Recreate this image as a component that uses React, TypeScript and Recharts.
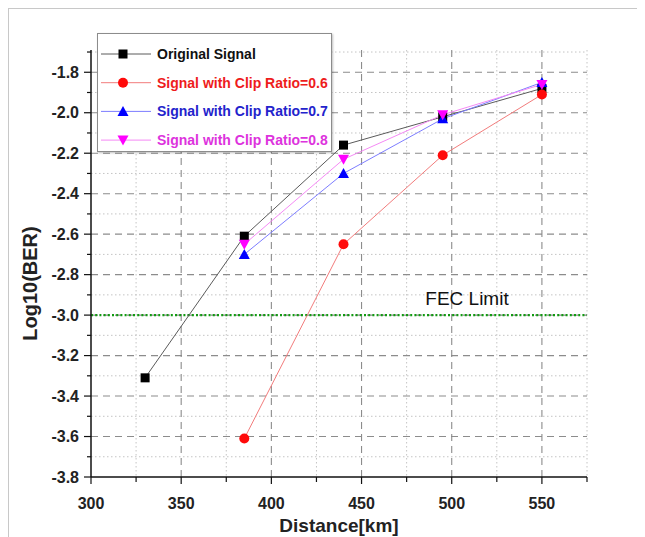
import { LineChart, Line, XAxis, YAxis, CartesianGrid, ReferenceLine, Legend } from 'recharts';

const distances = [330, 385, 440, 495, 550];
const originalSignal = [-3.31, -2.61, -2.16, -2.02, -1.88];
const clipRatio06 = [null, -3.61, -2.65, -2.21, -1.91];
const clipRatio07 = [null, -2.7, -2.3, -2.03, -1.85];
const clipRatio08 = [null, -2.65, -2.23, -2.01, -1.86];

const xTicks = [300, 325, 350, 375, 400, 425, 450, 475, 500, 525, 550, 575];
const xMajorTicks = [300, 350, 400, 450, 500, 550];
const xMinorTicks = [325, 375, 425, 475, 525, 575];
const yTicks = [-3.8, -3.7, -3.6, -3.5, -3.4, -3.3, -3.2, -3.1, -3.0, -2.9, -2.8, -2.7, -2.6, -2.5, -2.4, -2.3, -2.2, -2.1, -2.0, -1.9, -1.8, -1.7];
const yMajorTicks = [-3.8, -3.6, -3.4, -3.2, -3.0, -2.8, -2.6, -2.4, -2.2, -2.0, -1.8];
const yMinorTicks = [-3.7, -3.5, -3.3, -3.1, -2.9, -2.7, -2.5, -2.3, -2.1, -1.9, -1.7];
const fecLimit = -3.0;

const data = distances.map((d, i) => ({
  distance: d,
  original: originalSignal[i],
  clip06: clipRatio06[i],
  clip07: clipRatio07[i],
  clip08: clipRatio08[i],
}));

const FONT = '"Liberation Sans", Arial, sans-serif';

const series = [
  { key: 'original', name: 'Original Signal', line: '#5a5a5a', marker: '#000000', text: '#111111', shape: 'square' },
  { key: 'clip06', name: 'Signal with Clip Ratio=0.6', line: '#f27c7c', marker: '#ff0a0a', text: '#ee1c1c', shape: 'circle' },
  { key: 'clip07', name: 'Signal with Clip Ratio=0.7', line: '#7d7dff', marker: '#0000ff', text: '#2323cc', shape: 'triangle' },
  { key: 'clip08', name: 'Signal with Clip Ratio=0.8', line: '#f589f5', marker: '#ff00ff', text: '#dd33dd', shape: 'triangleDown' },
];

function Marker({ cx, cy, shape, color }: any) {
  if (cx == null || cy == null || isNaN(cy)) return <g />;
  if (shape === 'square') return <rect x={cx - 4.5} y={cy - 4.5} width={9} height={9} fill={color} />;
  if (shape === 'circle') return <circle cx={cx} cy={cy} r={5} fill={color} />;
  if (shape === 'triangle')
    return <polygon points={`${cx},${cy - 5.5} ${cx + 5.5},${cy + 4.5} ${cx - 5.5},${cy + 4.5}`} fill={color} />;
  return <polygon points={`${cx},${cy + 5.5} ${cx + 5.5},${cy - 4.5} ${cx - 5.5},${cy - 4.5}`} fill={color} />;
}

function YTick({ x, y, payload }: any) {
  const major = yMajorTicks.includes(payload.value);
  return (
    <g>
      <line x1={x - (major ? 7 : 4)} x2={x} y1={y} y2={y} stroke="#111" strokeWidth={1.2} />
      {major && (
        <text x={x - 12} y={y + 5.5} textAnchor="end" fontFamily={FONT} fontWeight="bold" fontSize={16} fill="#222">
          {payload.value.toFixed(1)}
        </text>
      )}
    </g>
  );
}

function XTick({ x, y, payload }: any) {
  const major = xMajorTicks.includes(payload.value);
  return (
    <g>
      <line x1={x} x2={x} y1={y} y2={y + (major ? 7 : 5)} stroke="#111" strokeWidth={1.2} />
      {major && (
        <text x={x} y={y + 32} textAnchor="middle" fontFamily={FONT} fontWeight="bold" fontSize={16} fill="#222">
          {payload.value}
        </text>
      )}
    </g>
  );
}

function XTitle({ viewBox }: any) {
  const vb = viewBox || { x: 82, y: 468, width: 496 };
  return (
    <text x={vb.x + vb.width / 2} y={vb.y + 55} textAnchor="middle" fontFamily={FONT} fontWeight="bold" fontSize={19} fill="#222">
      Distance[km]
    </text>
  );
}

function YTitle({ viewBox }: any) {
  const vb = viewBox || { y: 41, height: 427 };
  const cx = 21;
  const cy = vb.y + vb.height / 2 + 20;
  return (
    <text
      x={cx}
      y={cy}
      transform={`rotate(-90 ${cx} ${cy})`}
      textAnchor="middle"
      dominantBaseline="central"
      fontFamily={FONT}
      fontWeight="bold"
      fontSize={20}
      fill="#222"
    >
      Log10(BER)
    </text>
  );
}

function FecLabel({ viewBox }: any) {
  const vb = viewBox || { x: 82, y: 306 };
  return (
    <text x={vb.x + 376} y={vb.y - 10} textAnchor="middle" fontFamily={FONT} fontSize={19} fill="#111">
      FEC Limit
    </text>
  );
}

function LegendBox() {
  return (
    <div
      style={{
        width: 235,
        height: 119,
        background: '#fff',
        border: '1px solid #8c8c8c',
        boxSizing: 'border-box',
        boxShadow: '1px 1px 2px rgba(0,0,0,0.25)',
      }}
    >
      <svg width={233} height={117}>
        {series.map((s, i) => {
          const y = 20 + i * 28.7;
          return (
            <g key={s.key}>
              <line x1={3} x2={53} y1={y} y2={y} stroke={s.line} strokeWidth={1} />
              <Marker cx={25} cy={y} shape={s.shape} color={s.marker} />
              <text x={59} y={y + 5} fontFamily={FONT} fontWeight="bold" fontSize={14} fill={s.text}>
                {s.name}
              </text>
            </g>
          );
        })}
      </svg>
    </div>
  );
}

export default function App() {
  return (
    <div style={{ width: 636, height: 528, borderTop: '1px solid #c8c8c8', borderLeft: '1px solid #c8c8c8' }}>
      <LineChart width={636} height={528} data={data} margin={{ top: 41, right: 58, bottom: 10, left: 0 }}>
        <CartesianGrid
          stroke="#c4c4c4"
          strokeDasharray="1.5 2.5"
          horizontalValues={yMinorTicks}
          verticalValues={xMinorTicks}
        />
        <CartesianGrid
          stroke="#8c8c8c"
          strokeWidth={1.1}
          strokeDasharray="7 5"
          horizontalValues={yMajorTicks.filter((v) => v !== -3.8)}
          verticalValues={xMajorTicks.filter((v) => v !== 300)}
        />
        <XAxis
          dataKey="distance"
          type="number"
          domain={[300, 575]}
          ticks={xTicks}
          interval={0}
          height={50}
          tickSize={0}
          tickMargin={0}
          tick={<XTick />}
          axisLine={{ stroke: '#111', strokeWidth: 1.5 }}
          tickLine={false}
          allowDataOverflow
          label={<XTitle />}
        />
        <YAxis
          type="number"
          domain={[-3.8, -1.69]}
          ticks={yTicks}
          interval={0}
          width={82}
          tickSize={0}
          tickMargin={0}
          tick={<YTick />}
          axisLine={{ stroke: '#111', strokeWidth: 1.5 }}
          tickLine={false}
          allowDataOverflow
          label={<YTitle />}
        />
        <ReferenceLine
          y={fecLimit}
          stroke="#129a12"
          strokeWidth={2.2}
          strokeDasharray="2 2.2"
          label={<FecLabel />}
        />
        {series.map((s) => (
          <Line
            key={s.key}
            dataKey={s.key}
            name={s.name}
            stroke={s.line}
            strokeWidth={1}
            isAnimationActive={false}
            dot={(p: any) => <Marker key={`${s.key}-${p.index}`} cx={p.cx} cy={p.cy} shape={s.shape} color={s.marker} />}
            activeDot={false}
          />
        ))}
        <Legend
          layout="horizontal"
          verticalAlign="middle"
          align="center"
          content={<LegendBox />}
          wrapperStyle={{ left: 88, top: 24, width: 235, height: 119 }}
        />
      </LineChart>
    </div>
  );
}
